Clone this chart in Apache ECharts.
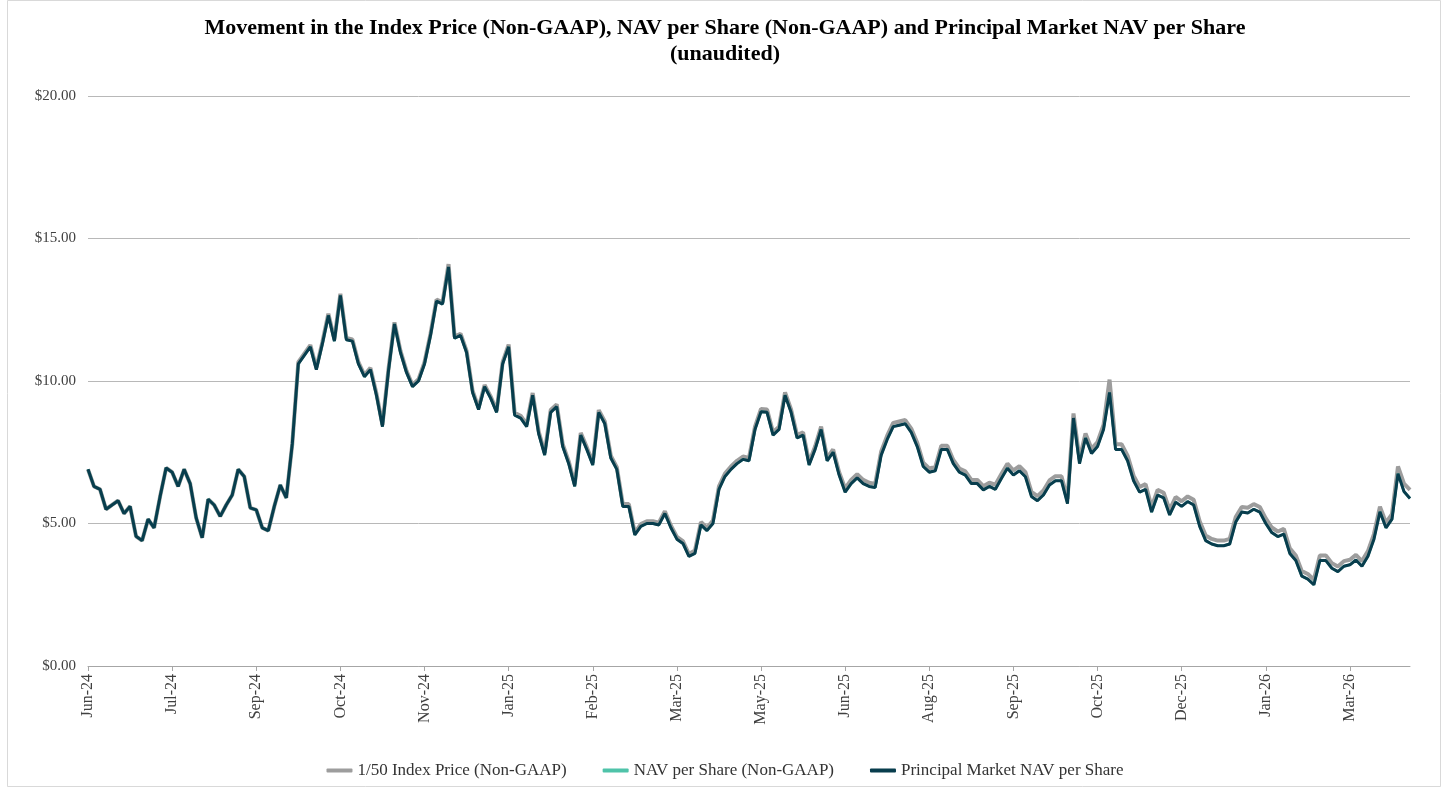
<!DOCTYPE html>
<html>
<head>
<meta charset="utf-8">
<script src="https://cdn.jsdelivr.net/npm/echarts@6/dist/echarts.min.js"></script>
<style>
html,body{margin:0;padding:0;background:#ffffff;}
#chart{width:1450px;height:788px;}
</style>
</head>
<body>
<div id="chart"></div>
<script>
// ---- data ----
const startDate = '2024-06-10';   // first category
const stepDays = 3;               // spacing between samples
const labelEvery = 14;            // a tick label every 14 samples (42 days)

const titleLines = ['Movement in the Index Price (Non-GAAP), NAV per Share (Non-GAAP) and Principal Market NAV per Share', '(unaudited)'];
const seriesNames = ['1/50 Index Price (Non-GAAP)', 'NAV per Share (Non-GAAP)', 'Principal Market NAV per Share'];
const seriesColors = ['#9d9d9d', '#4fc3a9', '#083d4d'];
const monthNames = ['Jan','Feb','Mar','Apr','May','Jun','Jul','Aug','Sep','Oct','Nov','Dec'];
const yTicks = [0, 5, 10, 15, 20];

const principalNav = [
6.90,6.30,6.20,5.50,5.65,5.80,5.35,5.60,4.55,4.40,
5.15,4.85,5.95,6.95,6.80,6.30,6.90,6.40,5.20,4.50,
5.85,5.65,5.25,5.65,6.00,6.90,6.65,5.55,5.48,4.85,
4.75,5.60,6.35,5.90,7.80,10.60,10.90,11.20,10.40,11.30,
12.30,11.40,13.00,11.45,11.40,10.60,10.15,10.40,9.50,8.40,
10.35,12.00,11.00,10.30,9.80,10.00,10.60,11.60,12.80,12.70,
14.00,11.50,11.60,11.00,9.60,9.00,9.80,9.40,8.90,10.60,
11.20,8.80,8.70,8.40,9.50,8.15,7.40,8.90,9.10,7.70,
7.10,6.30,8.10,7.60,7.05,8.90,8.50,7.30,6.90,5.60,
5.60,4.60,4.90,5.00,5.00,4.95,5.35,4.85,4.45,4.30,
3.85,3.95,4.95,4.75,5.00,6.20,6.65,6.90,7.10,7.25,
7.20,8.30,8.92,8.90,8.10,8.30,9.50,8.90,8.00,8.10,
7.05,7.60,8.30,7.20,7.50,6.70,6.10,6.40,6.60,6.40,
6.30,6.26,7.40,7.95,8.40,8.45,8.50,8.20,7.70,7.00,
6.80,6.85,7.60,7.60,7.10,6.80,6.70,6.40,6.40,6.18,
6.30,6.20,6.58,6.94,6.70,6.85,6.64,5.95,5.80,6.00,
6.35,6.50,6.50,5.70,8.70,7.10,8.00,7.46,7.70,8.30,
9.60,7.60,7.60,7.20,6.50,6.10,6.20,5.40,6.00,5.90,
5.30,5.75,5.60,5.77,5.65,4.90,4.40,4.28,4.22,4.22,
4.28,5.05,5.40,5.37,5.50,5.40,5.00,4.68,4.54,4.63,
3.95,3.70,3.15,3.05,2.85,3.70,3.70,3.43,3.31,3.50,
3.55,3.72,3.50,3.85,4.45,5.41,4.85,5.15,6.75,6.12,5.88
];

const navPerShare = [
6.90,6.30,6.20,5.50,5.65,5.80,5.35,5.60,4.55,4.40,
5.15,4.85,5.95,6.95,6.80,6.30,6.90,6.40,5.20,4.50,
5.85,5.65,5.25,5.65,6.00,6.90,6.65,5.55,5.48,4.85,
4.75,5.60,6.35,5.90,7.80,10.60,10.90,11.20,10.40,11.30,
12.30,11.40,13.00,11.45,11.40,10.60,10.15,10.40,9.50,8.40,
10.35,12.00,11.00,10.30,9.80,10.00,10.60,11.60,12.80,12.70,
14.00,11.50,11.60,11.00,9.60,9.00,9.80,9.40,8.90,10.60,
11.20,8.80,8.70,8.40,9.50,8.15,7.40,8.90,9.10,7.70,
7.10,6.30,8.10,7.60,7.05,8.90,8.50,7.30,6.90,5.60,
5.60,4.60,4.90,5.00,5.00,4.95,5.35,4.85,4.45,4.30,
3.85,3.95,4.95,4.75,5.00,6.20,6.65,6.90,7.10,7.25,
7.20,8.30,8.92,8.90,8.10,8.30,9.50,8.90,8.00,8.10,
7.05,7.60,8.30,7.20,7.50,6.70,6.10,6.40,6.60,6.40,
6.30,6.26,7.40,7.95,8.40,8.45,8.50,8.20,7.70,7.00,
6.80,6.85,7.60,7.60,7.10,6.80,6.70,6.40,6.40,6.18,
6.30,6.20,6.58,6.94,6.70,6.85,6.64,5.95,5.80,6.00,
6.35,6.50,6.50,5.70,8.70,7.10,8.00,7.46,7.70,8.30,
9.60,7.60,7.60,7.20,6.50,6.10,6.20,5.40,6.00,5.90,
5.30,5.75,5.60,5.77,5.65,4.90,4.40,4.28,4.22,4.22,
4.28,5.05,5.40,5.37,5.50,5.40,5.00,4.68,4.54,4.63,
3.95,3.70,3.15,3.05,2.85,3.70,3.70,3.43,3.31,3.50,
3.55,3.72,3.50,3.85,4.45,5.41,4.85,5.15,6.75,6.12,5.88
];

const indexPrice = [
6.90,6.30,6.20,5.50,5.65,5.80,5.35,5.60,4.55,4.40,
5.15,4.85,5.95,6.95,6.80,6.30,6.90,6.40,5.20,4.50,
5.85,5.65,5.25,5.65,6.00,6.90,6.65,5.55,5.48,4.85,
4.75,5.60,6.35,5.90,7.80,10.66,10.96,11.26,10.46,11.36,
12.36,11.46,13.06,11.51,11.46,10.66,10.21,10.46,9.56,8.46,
10.41,12.06,11.06,10.36,9.86,10.06,10.66,11.66,12.86,12.76,
14.10,11.56,11.66,11.06,9.66,9.06,9.86,9.46,8.96,10.66,
11.28,8.88,8.78,8.48,9.58,8.23,7.48,8.98,9.18,7.78,
7.18,6.38,8.18,7.68,7.13,8.98,8.58,7.38,6.98,5.68,
5.68,4.68,4.98,5.08,5.08,5.03,5.43,4.93,4.53,4.38,
3.93,4.05,5.05,4.85,5.10,6.30,6.75,7.00,7.20,7.35,
7.30,8.40,9.02,9.00,8.20,8.40,9.60,9.00,8.10,8.20,
7.15,7.70,8.40,7.30,7.60,6.80,6.23,6.53,6.73,6.53,
6.43,6.39,7.53,8.08,8.53,8.58,8.63,8.33,7.83,7.13,
6.93,6.98,7.73,7.73,7.23,6.93,6.83,6.53,6.53,6.31,
6.43,6.36,6.74,7.10,6.86,7.01,6.80,6.11,5.96,6.16,
6.51,6.66,6.66,5.86,8.86,7.26,8.16,7.62,7.86,8.46,
10.05,7.78,7.78,7.38,6.68,6.28,6.38,5.58,6.18,6.08,
5.48,5.93,5.78,5.95,5.83,5.08,4.58,4.46,4.40,4.40,
4.46,5.23,5.58,5.55,5.68,5.58,5.18,4.86,4.72,4.81,
4.13,3.88,3.33,3.23,3.03,3.88,3.88,3.61,3.49,3.68,
3.73,3.90,3.68,4.03,4.63,5.59,5.03,5.33,7.00,6.40,6.18
];

// ---- categories (dates) ----
const categories = [];
(function () {
  const t0 = Date.parse(startDate + 'T00:00:00Z');
  for (let i = 0; i < principalNav.length; i++) {
    const d = new Date(t0 + i * stepDays * 86400000);
    categories.push(d.toISOString().slice(0, 10));
  }
})();

function fmtDate(s) {
  const y = s.slice(2, 4);
  const m = parseInt(s.slice(5, 7), 10) - 1;
  return monthNames[m] + '-' + y;
}

const serif = '"Liberation Serif", "Times New Roman", serif';
const titleStyle = { fontFamily: serif, fontWeight: 'bold', fontSize: 22, color: '#000000' };

const chart = echarts.init(document.getElementById('chart'), null, { renderer: 'canvas' });
chart.setOption({
  animation: false,
  backgroundColor: '#ffffff',
  title: [
    { text: titleLines[0], left: 'center', top: 17, padding: 0, textStyle: titleStyle },
    { text: titleLines[1], left: 'center', top: 43, padding: 0, textStyle: titleStyle }
  ],
  graphic: [{
    type: 'rect',
    shape: { x: 7.5, y: 0.5, width: 1433, height: 786 },
    style: { fill: 'none', stroke: '#d9d9d9', lineWidth: 1 },
    silent: true
  }],
  legend: {
    bottom: 4,
    left: 'center',
    itemGap: 36,
    itemWidth: 26,
    itemHeight: 4,
    textStyle: { fontFamily: serif, fontSize: 17, color: '#333333' },
    data: seriesNames.map((n, k) => ({ name: n, icon: 'roundRect', itemStyle: { color: seriesColors[k] } }))
  },
  grid: { left: 88, right: 40, top: 96, bottom: 122 },
  xAxis: {
    type: 'category',
    boundaryGap: false,
    data: categories,
    axisLine: { show: true, lineStyle: { color: '#a6a6a6', width: 1 } },
    axisTick: { show: true, interval: labelEvery - 1, length: 5, lineStyle: { color: '#a6a6a6' } },
    axisLabel: {
      interval: labelEvery - 1,
      rotate: 90,
      margin: 8,
      fontFamily: serif,
      fontSize: 16,
      color: '#404040',
      formatter: fmtDate
    },
    splitLine: { show: false }
  },
  yAxis: {
    type: 'value',
    min: yTicks[0],
    max: yTicks[yTicks.length - 1],
    interval: yTicks[1] - yTicks[0],
    axisLine: { show: false },
    axisTick: { show: false },
    axisLabel: {
      margin: 12,
      fontFamily: serif,
      fontSize: 15,
      color: '#404040',
      formatter: v => '$' + v.toFixed(2)
    },
    splitLine: { lineStyle: { color: '#b8b8b8', width: 1 } }
  },
  series: [
    {
      name: seriesNames[0], type: 'line', data: indexPrice, showSymbol: false, symbol: 'none',
      lineStyle: { color: seriesColors[0], width: 4 }, itemStyle: { color: seriesColors[0] }, z: 1
    },
    {
      name: seriesNames[1], type: 'line', data: navPerShare, showSymbol: false, symbol: 'none',
      lineStyle: { color: seriesColors[1], width: 2.5 }, itemStyle: { color: seriesColors[1] }, z: 2
    },
    {
      name: seriesNames[2], type: 'line', data: principalNav, showSymbol: false, symbol: 'none',
      lineStyle: { color: seriesColors[2], width: 3 }, itemStyle: { color: seriesColors[2] }, z: 3
    }
  ]
});
</script>
</body>
</html>
